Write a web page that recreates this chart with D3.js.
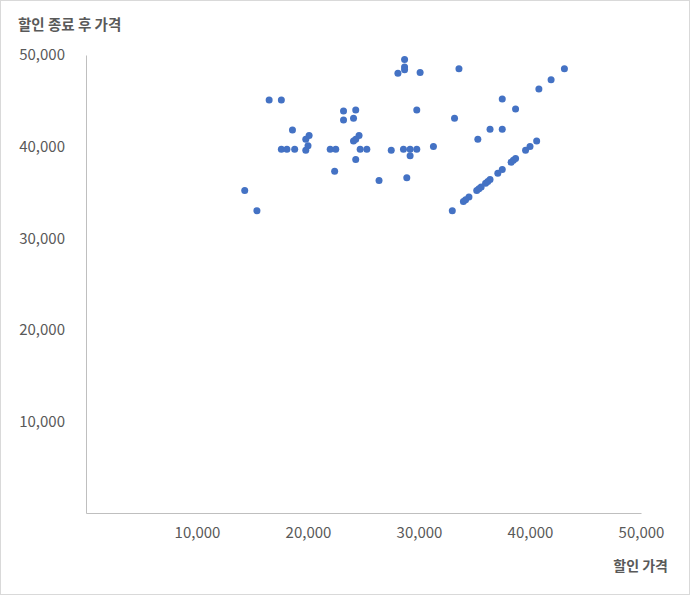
<!DOCTYPE html>
<html><head><meta charset="utf-8">
<script src="https://cdn.jsdelivr.net/npm/d3@7"></script>
<style>
html,body{margin:0;padding:0;background:#fff;}
svg{display:block;}
text{font-family:"Noto Sans CJK KR","Noto Sans",sans-serif;fill:#595959;}
</style></head>
<body>
<script>
// 할인 가격 (x) and 할인 종료 후 가격 (y)
const salePrice = [
 28700,28700,28700,28100,30100,16500,17600,23200,24300,29800,
 23200,24100,18600,20100,19800,24600,24300,24100,20000,19800,
 17600,18100,18800,22000,22500,24700,25300,27500,28600,29200,
 29800,29200,31300,24300,22400,26400,28900,14300,15400,
 33600,43100,41900,40800,37500,38700,33200,36400,37500,35300,
 40600,40000,39600,38700,38500,38300,37500,37100,36400,36200,
 36000,35600,35400,35200,34500,34200,34000,33000
];
const afterPrice = [
 49500,48700,48400,48000,48100,45100,45100,43900,44000,44000,
 42900,43100,41800,41200,40800,41200,40800,40600,40100,39600,
 39700,39700,39700,39700,39700,39700,39700,39600,39700,39700,
 39700,39000,40000,38600,37300,36300,36600,35200,33000,
 48500,48500,47300,46300,45200,44100,43100,41900,41900,40800,
 40600,40000,39600,38700,38500,38300,37500,37100,36400,36200,
 36000,35600,35400,35200,34500,34200,34000,33000
];
const xTicks = [10000,20000,30000,40000,50000];
const yTicks = [10000,20000,30000,40000,50000];
const xTitle = "할인 가격";
const yTitle = "할인 종료 후 가격";

const W=690,H=595;
const svg=d3.select("body").append("svg").attr("width",W).attr("height",H);
svg.append("rect").attr("x",0.5).attr("y",0.5).attr("width",W-1).attr("height",H-1)
  .attr("fill","#fff").attr("stroke","#d9d9d9");

const x=d3.scaleLinear().domain([0,50000]).range([86,641]);
const y=d3.scaleLinear().domain([0,50000]).range([513,55]);
const fmt=d3.format(",");

const xa=svg.append("g").attr("transform","translate(0,513)")
  .call(d3.axisBottom(x).tickValues(xTicks).tickFormat(fmt).tickSize(0).tickPadding(14));
xa.select(".domain").attr("stroke","#bfbfbf");
xa.selectAll("text").attr("font-size","15px").style("font-family","'Noto Sans CJK KR',sans-serif").attr("fill","#595959");

const ya=svg.append("g").attr("transform","translate(86,0)")
  .call(d3.axisLeft(y).tickValues(yTicks).tickFormat(fmt).tickSize(0).tickPadding(21));
ya.select(".domain").attr("stroke","#bfbfbf");
ya.selectAll("text").attr("font-size","15px").style("font-family","'Noto Sans CJK KR',sans-serif").attr("fill","#595959");

svg.append("text").attr("x",18).attr("y",30).attr("font-size","14.5px").attr("font-weight","bold").text(yTitle);
svg.append("text").attr("x",668).attr("y",571).attr("text-anchor","end").attr("font-size","14px").attr("font-weight","bold").text(xTitle);

svg.append("g").selectAll("circle").data(salePrice.map((v,i)=>[v,afterPrice[i]])).join("circle")
  .attr("cx",d=>x(d[0])).attr("cy",d=>y(d[1])).attr("r",3.5).attr("fill","#4472C4");
</script>
</body></html>
